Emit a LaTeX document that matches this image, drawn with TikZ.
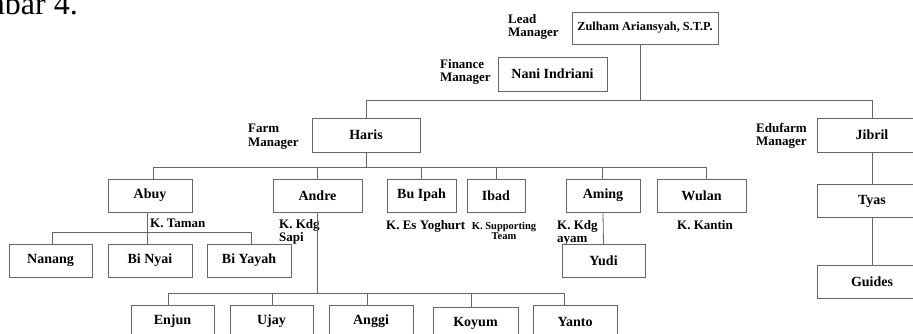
\documentclass[tikz,border=0pt]{standalone}
\usepackage{fontspec}
\setmainfont{Liberation Serif}
\usepackage{tikz}
\usetikzlibrary{positioning}

\begin{document}
\begin{tikzpicture}[x=1pt,y=-1pt,
    box/.style={draw=black!60,fill=white,minimum height=33pt,inner sep=0pt,font=\bfseries\fontsize{14}{16}\selectfont},
    lbl/.style={align=left,inner sep=0pt,font=\bfseries\fontsize{13}{13.5}\selectfont},
    link/.style={black!60,line width=0.8pt}]
        % frame
        \useasboundingbox (0,0) rectangle (913,334);
        \clip (0,0) rectangle (913,334);
        % rest of caption
        \node[anchor=base east,inner sep=0pt,font=\fontsize{32}{34}\selectfont] (cap) at (78,15) {mbar 4.};
        % managers
        \node[box,minimum width=146pt,minimum height=32pt,font=\bfseries\fontsize{12.3}{14}\selectfont] (lead) at (645,28) {Zulham Ariansyah, S.T.P.};
        \node[box,minimum width=109pt,minimum height=34pt] (finance) at (552.5,74) {Nani Indriani};
        \node[box,minimum width=108pt,minimum height=34pt] (haris) at (366,135) {Haris};
        \node[box,minimum width=110pt,minimum height=34pt] (jibril) at (872,135) {Jibril};
        \node[lbl,anchor=north west] (leadlbl) at (508,14) {Lead\\Manager};
        \node[lbl,anchor=north west] (financelbl) at (440,59) {Finance\\Manager};
        \node[lbl,anchor=north west] (farmlbl) at (248,124) {Farm\\Manager};
        \node[lbl,anchor=north west] (edulbl) at (756,123) {Edufarm\\Manager};
        % farm row
        \node[box,minimum width=84pt] (abuy) at (150,195.5) {Abuy};
        \node[box,minimum width=89pt] (andre) at (317.5,195.5) {Andre};
        \node[box,minimum width=69pt] (bupah) at (421.5,195.5) {Bu Ipah};
        \node[box,minimum width=58pt] (ibad) at (496,195.5) {Ibad};
        \node[box,minimum width=74pt] (aming) at (603,195.5) {Aming};
        \node[box,minimum width=89pt] (wulan) at (701.5,195.5) {Wulan};
        \node[box,minimum width=110pt] (tyas) at (872,201) {Tyas};
        % unit labels
        \node[lbl,anchor=north west] (tamanlbl) at (150,219) {K. Taman};
        \node[lbl,anchor=north west] (sapilbl) at (279,219) {K. Kdg\\Sapi};
        \node[lbl,anchor=north west] (yoglbl) at (386,220) {K. Es Yoghurt};
        \node[align=center,inner sep=0pt,font=\bfseries\fontsize{10.5}{8.5}\selectfont,anchor=north] (suplbl) at (504,222) {K. Supporting\\Team};
        \node[lbl,anchor=north west] (ayamlbl) at (557,220) {K. Kdg\\ayam};
        \node[lbl,anchor=north west] (kantinlbl) at (677,220) {K. Kantin};
        % third row
        \node[box,minimum width=83pt] (nanang) at (50.5,260.5) {Nanang};
        \node[box,minimum width=84pt] (binyai) at (150,260.5) {Bi Nyai};
        \node[box,minimum width=84pt] (biyayah) at (249,260.5) {Bi Yayah};
        \node[box,minimum width=83pt] (yudi) at (603.5,260.5) {Yudi};
        \node[box,minimum width=110pt] (guides) at (872,282) {Guides};
        % bottom row
        \node[box,minimum width=83pt] (enjun) at (172.5,321.5) {Enjun};
        \node[box,minimum width=83pt] (ujay) at (271.5,321.5) {Ujay};
        \node[box,minimum width=84pt] (anggi) at (371,321.5) {Anggi};
        \node[box,minimum width=85pt] (koyum) at (475.5,323.5) {Koyum};
        \node[box,minimum width=84pt] (yanto) at (575,321.5) {Yanto};
        % lines
        \draw[link] ([xshift=-5pt]lead.south) -- ++(0,56) coordinate (topbus);
        \draw[link] (topbus) -| (haris.north);
        \draw[link] (topbus) -| (jibril.north);
        \draw[link] (haris.south) -- ++(0,15) coordinate (farmbus);
        \foreach \n/\dx in {abuy/3,andre/0,bupah/0,ibad/0,aming/-1,wulan/5}
            \draw[link] (farmbus) -| ([xshift=\dx pt]\n.north);
        \draw[link] ([xshift=-3pt]abuy.south) -- ++(0,20) coordinate (tamanbus);
        \foreach \n/\dx in {nanang/2,binyai/-3,biyayah/2}
            \draw[link] (tamanbus) -| ([xshift=\dx pt]\n.north);
        \draw[link] (andre.south) -- ++(0,81) coordinate (sapibus);
        \foreach \n/\dx in {enjun/-4,ujay/1,anggi/-4,koyum/-4,yanto/-11}
            \draw[link] (sapibus) -| ([xshift=\dx pt]\n.north);
        \draw[link] (aming.south) -- (yudi.north);
        \draw[link] (jibril.south) -- (tyas.north);
        \draw[link] (tyas.south) -- (guides.north);
\end{tikzpicture}
\end{document}
